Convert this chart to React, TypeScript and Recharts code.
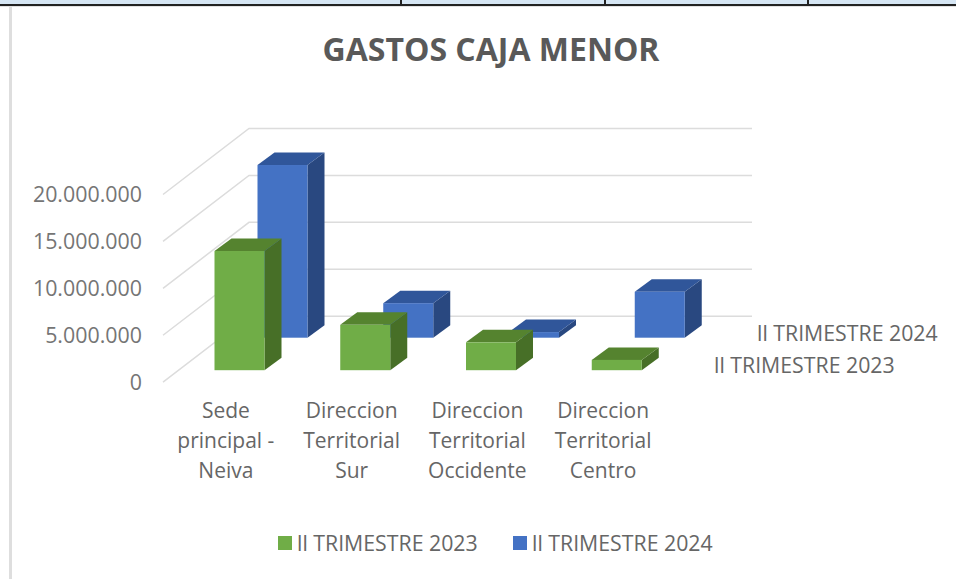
import React from "react";
import { Bar, BarChart, CartesianGrid, Legend, XAxis, YAxis } from "recharts";

const categories = [
  "Sede principal - Neiva",
  "Direccion Territorial Sur",
  "Direccion Territorial Occidente",
  "Direccion Territorial Centro",
];
const categoryLines = [
  ["Sede", "principal -", "Neiva"],
  ["Direccion", "Territorial", "Sur"],
  ["Direccion", "Territorial", "Occidente"],
  ["Direccion", "Territorial", "Centro"],
];
const trimestre2023 = [12700000, 4830000, 2970000, 1100000];
const trimestre2024 = [18400000, 3680000, 600000, 4900000];
const yTicks = [0, 5000000, 10000000, 15000000, 20000000];

const NAME_2023 = "ll TRIMESTRE 2023";
const NAME_2024 = "ll TRIMESTRE 2024";

const chartData = categories.map((name, i) => ({
  name,
  t2023: trimestre2023[i],
  t2024: trimestre2024[i],
}));

const FONT = "'Open Sans', sans-serif";
const TEXT = "#666666";

// how far the back wall sits from the front plane
const DEPTH_X = 86;
const DEPTH_Y = 66;
// bar depth
const BAR_DX = 17;
const BAR_DY = 12.5;

const formatTick = (v: number) => v.toLocaleString("es-CO").replace(/,/g, ".");

const makeBox =
  (shiftX: number, shiftY: number, top: string, side: string) => (props: any) => {
    const { x, y, width, height, fill } = props;
    const l = x + shiftX;
    const r = l + width;
    const t = y - shiftY;
    const b = t + height;
    return (
      <g>
        <polygon
          points={`${r},${t} ${r + BAR_DX},${t - BAR_DY} ${r + BAR_DX},${b - BAR_DY} ${r},${b}`}
          fill={side}
        />
        <polygon
          points={`${l},${t} ${l + BAR_DX},${t - BAR_DY} ${r + BAR_DX},${t - BAR_DY} ${r},${t}`}
          fill={top}
        />
        <rect x={l} y={t} width={width} height={height} fill={fill} />
      </g>
    );
  };

const GreenBox = makeBox(13.5, 12, "#55832F", "#476F27");
const BlueBox = makeBox(56.5, 44.5, "#30569A", "#294880");

const WallLine = (props: any) => {
  const { x1, y1, x2 } = props;
  return (
    <polyline
      points={`${x1},${y1} ${x1 + DEPTH_X},${y1 - DEPTH_Y} ${x2 + DEPTH_X},${y1 - DEPTH_Y}`}
      fill="none"
      stroke="#DCDCDC"
      strokeWidth={1.5}
    />
  );
};

const CategoryTick = (props: any) => {
  const { x, y, payload } = props;
  return (
    <text x={x} textAnchor="middle" fontFamily={FONT} fontSize={21} fill={TEXT}>
      {categoryLines[payload.index].map((line, i) => (
        <tspan key={line} x={x} y={y + 28 + i * 30}>
          {line}
        </tspan>
      ))}
    </text>
  );
};

const LegendContent = (props: any) => (
  <div style={{ display: "flex", paddingLeft: 278, fontFamily: FONT, fontSize: 21.3, color: TEXT }}>
    {props.payload.map((item: any) => (
      <div key={item.value} style={{ display: "flex", alignItems: "center", width: 235, lineHeight: "26px" }}>
        <span style={{ width: 14, height: 14, background: item.color, marginRight: 5 }} />
        {item.value}
      </div>
    ))}
  </div>
);

const App = () => (
  <div style={{ position: "absolute", left: 0, top: 0, width: 956, height: 579, background: "#fff", overflow: "hidden" }}>
    <div style={{ position: "absolute", left: 0, top: 0, width: 956, height: 4, background: "#D6E6F4", borderBottom: "2px solid #222" }} />
    <div style={{ position: "absolute", left: 0, top: 6, width: 956, height: 1, background: "#E2E2E2" }} />
    <div style={{ position: "absolute", left: 400, top: 0, width: 2, height: 5, background: "#222" }} />
    <div style={{ position: "absolute", left: 604, top: 0, width: 2, height: 5, background: "#222" }} />
    <div style={{ position: "absolute", left: 807, top: 0, width: 2, height: 5, background: "#222" }} />
    <div style={{ position: "absolute", left: 9, top: 7, width: 3, height: 572, background: "#DEDEDE" }} />
    <BarChart
      width={956}
      height={579}
      data={chartData}
      barSize={50}
      barGap={-50}
      margin={{ top: 194.5, right: 290, bottom: 110.8, left: 13 }}
      style={{ position: "absolute", left: 0, top: 0 }}
    >
      <text x={491} y={48} textAnchor="middle" dominantBaseline="central" fontFamily={FONT} fontWeight={700} fontSize={32} fill="#595959">
        GASTOS CAJA MENOR
      </text>
      <text x={757} y={332} dominantBaseline="central" fontFamily={FONT} fontSize={21.3} fill={TEXT}>
        {NAME_2024}
      </text>
      <text x={714} y={364} dominantBaseline="central" fontFamily={FONT} fontSize={21.3} fill={TEXT}>
        {NAME_2023}
      </text>
      <CartesianGrid vertical={false} horizontal={WallLine} />
      <XAxis
        dataKey="name"
        axisLine={false}
        tickLine={false}
        interval={0}
        height={60}
        tick={CategoryTick}
      />
      <YAxis
        width={150}
        domain={[0, 20000000]}
        ticks={yTicks}
        axisLine={false}
        tickLine={false}
        tickFormatter={formatTick}
        tickMargin={15}
        tick={{ fontFamily: FONT, fontSize: 21.4, fill: "#757575" }}
      />
      <Bar dataKey="t2024" name={NAME_2024} fill="#4472C4" shape={BlueBox} isAnimationActive={false} />
      <Bar dataKey="t2023" name={NAME_2023} fill="#70AD47" shape={GreenBox} isAnimationActive={false} />
      <Legend
        content={LegendContent}
        wrapperStyle={{ position: "absolute", left: 0, top: 530, width: 956 }}
      />
    </BarChart>
  </div>
);

export default App;
